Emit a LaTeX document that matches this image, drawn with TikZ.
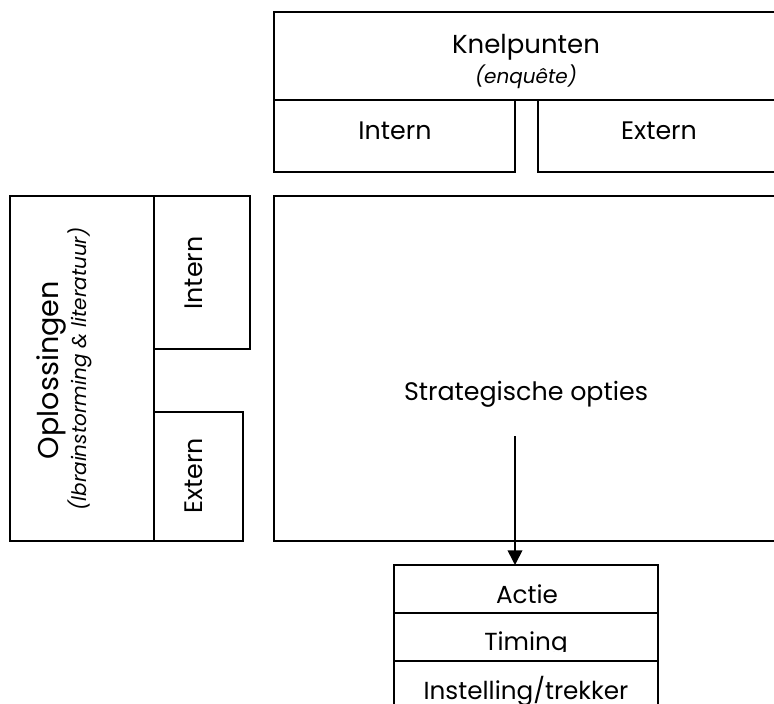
\documentclass[tikz,border=0pt]{standalone}
\usepackage{fontspec}
\setmainfont{Poppins}
\usetikzlibrary{arrows.meta}

\tikzset{
  vak/.style 2 args={draw, line width=1.2pt, inner sep=0pt, outer sep=0pt,
    minimum width=#1*0.75pt, minimum height=#2*0.75pt},
  groot/.style={inner sep=0pt, anchor=base, font=\fontsize{19}{22}\selectfont},
  klein/.style={inner sep=0pt, anchor=base, font=\fontsize{15}{18}\selectfont\itshape},
  onder/.style={inner sep=0pt, anchor=base, font=\fontsize{18.5}{21}\selectfont}
}

\begin{document}
\begin{tikzpicture}[x=0.75pt,y=0.75pt,yscale=-1,xscale=1]
\clip (0,0) rectangle (774,703);
% knelpunten bovenaan
\node[vak={506}{88}] (knelpunten) at (527,56) {};
\node[vak={241}{72}] (knelIntern) at (394.5,136) {};
\node[vak={242}{72}] (knelExtern) at (659,136) {};
\node[groot, font=\fontsize{19.5}{22}\selectfont] (knelTxt) at (526,53) {Knelpunten};
\node[klein] (enqTxt) at (526,83) {(enquête)};
\node[groot] (knelIntTxt) at (395,139) {Intern};
\node[groot] (knelExtTxt) at (659,139) {Extern};
% strategische opties
\node[vak={506}{345}] (strategie) at (527,368.5) {};
\node[groot] (stratTxt) at (526,400) {Strategische opties};
% oplossingen links
\node[vak={144}{345}] (oplossingen) at (82,368.5) {};
\node[vak={96}{153}] (oplIntern) at (202,272.5) {};
\node[vak={89}{129}] (oplExtern) at (198.5,476.5) {};
\node[groot, rotate=90, font=\fontsize{21.5}{24}\selectfont] (oplTxt) at (58,370) {Oplossingen};
\node[klein, rotate=90] (bronTxt) at (86,369) {(lbrainstorming \& literatuur)};
\node[groot, rotate=90] (oplIntTxt) at (202,273) {Intern};
\node[groot, rotate=90] (oplExtTxt) at (202,476) {Extern};
% actie onderaan
\node[vak={264}{48}] (actie) at (526,589) {};
\node[vak={264}{48}] (timing) at (526,637) {};
\node[vak={264}{60}] (instelling) at (526,691) {};
\node[onder] (actieTxt) at (527,603) {Actie};
\begin{scope}
\clip (394,613) rectangle (658,651);
\node[onder] (timingTxt) at (526,650) {Timing};
\end{scope}
\node[onder] (instTxt) at (526,699) {Instelling/trekker};
\coordinate (pijlstart) at (515,436);
\draw[line width=1.2pt, -{Triangle[width=11pt,length=11pt]}] (pijlstart) -- (pijlstart |- actie.north);
\end{tikzpicture}
\end{document}
